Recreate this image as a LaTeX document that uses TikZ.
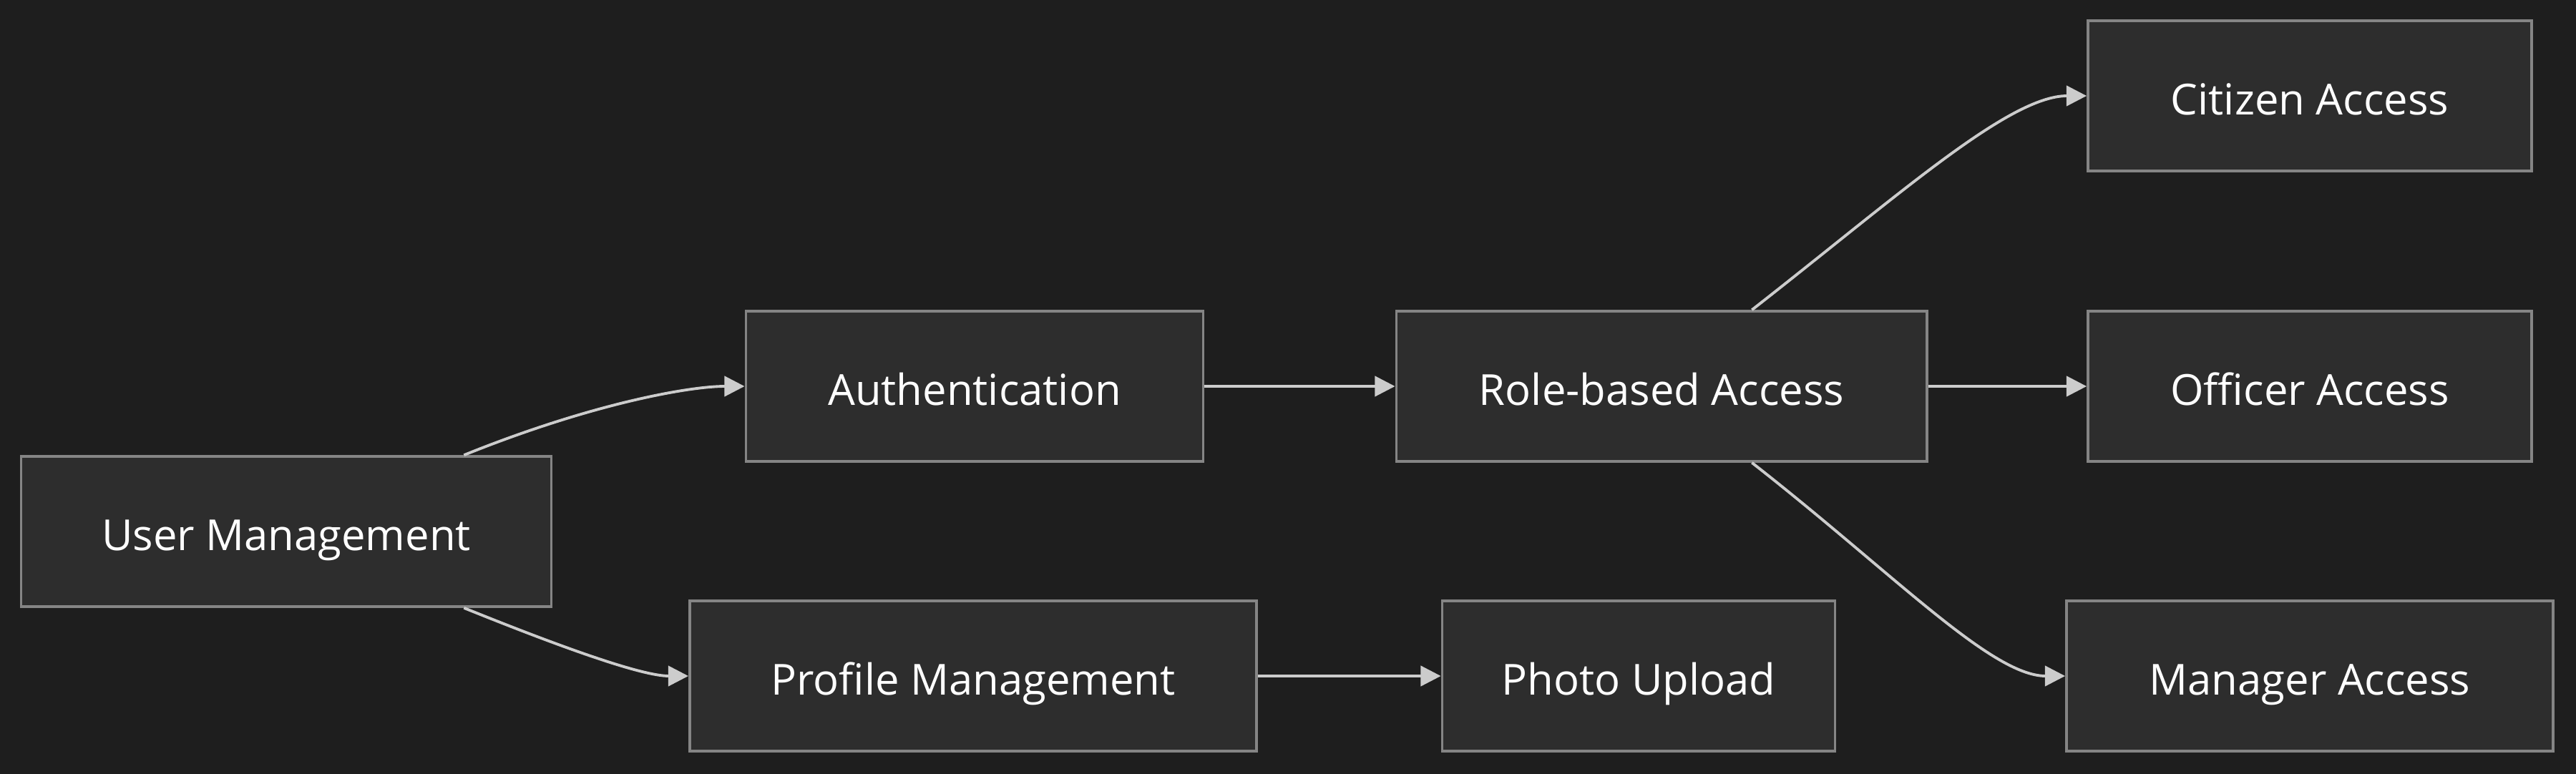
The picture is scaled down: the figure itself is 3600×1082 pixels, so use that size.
\documentclass[tikz,border=0pt]{standalone}
\usepackage{fontspec}
\setmainfont{Open Sans}
\usetikzlibrary{arrows.meta,positioning}
\definecolor{canvas}{HTML}{1E1E1E}
\definecolor{boxfill}{HTML}{2D2D2D}
\definecolor{boxline}{HTML}{858585}
\definecolor{wire}{HTML}{CCCCCC}
\tikzset{
  every node/.style={
    font=\fontsize{17}{20}\selectfont
  },
  module/.style={
    shape=rectangle,
    draw=boxline,
    line width=1pt,
    fill=boxfill,
    text=white,
    minimum height=2.1cm,
    minimum width=#1,
    text height=15pt,
    text depth=0pt,
    text centered
  },
  link/.style={
    draw=wire,
    line width=1.1pt,
    -{Triangle[length=8pt,width=8pt]}
  },
  bend/.style 2 args={
    out=#1, in=#2, out looseness=1.2, in looseness=0.5
  }
}

\begin{document}
\begin{tikzpicture}[x=0.01cm,y=-0.01cm]
    \fill [canvas] (0,0) rectangle (3600,1082);
    % modules
    \node [module=7.41cm] (usermgmt) at (400,743) {User Management};
    \node [module=6.39cm] (auth) at (1362,540) {Authentication};
    \node [module=7.92cm] (profile) at (1360,945) {Profile Management};
    \node [module=7.41cm] (rbac) at (2322,540) {Role-based Access};
    \node [module=5.49cm] (photo) at (2290,945) {Photo Upload};
    \node [module=6.2cm] (citizen) at (3228,134) {Citizen Access};
    \node [module=6.2cm] (officer) at (3228,540) {Officer Access};
    \node [module=6.8cm] (manager) at (3228,945) {Manager Access};
    % links
    \draw [link] ([xshift=-1.24cm]usermgmt.north east) to[bend={22}{180}] (auth.west);
    \draw [link] ([xshift=-1.24cm]usermgmt.south east) to[bend={-22}{180}] (profile.west);
    \draw [link] (auth) -- (rbac);
    \draw [link] (profile) -- (photo);
    \draw [link] (rbac) -- (officer);
    \draw [link] ([xshift=-2.46cm]rbac.north east) to[bend={38}{180}] (citizen.west);
    \draw [link] ([xshift=-2.46cm]rbac.south east) to[bend={-38}{180}] (manager.west);
\end{tikzpicture}
\end{document}
